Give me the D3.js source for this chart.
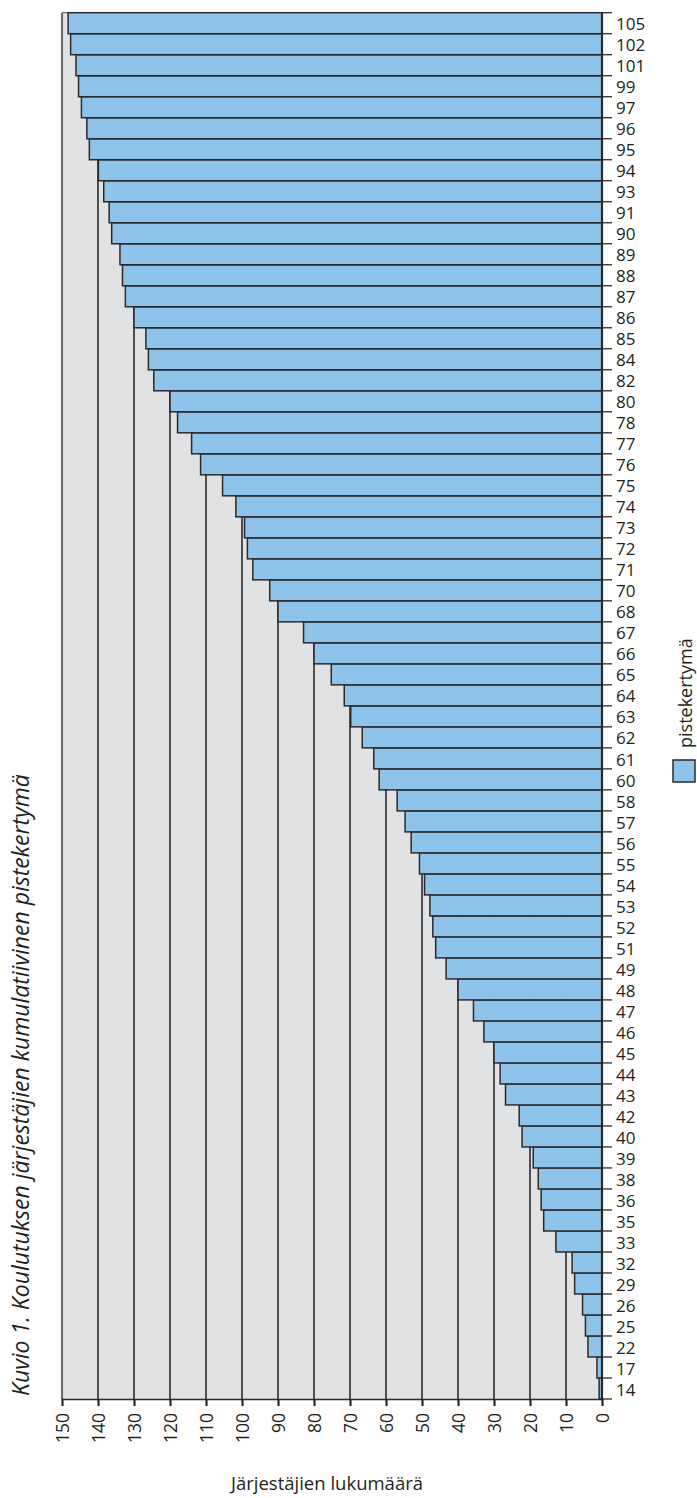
<!DOCTYPE html>
<html>
<head>
<meta charset="utf-8">
<script src="https://cdn.jsdelivr.net/npm/d3@7"></script>
<style>
  body { margin: 0; background: #fff; }
  text { font-family: "Open Sans", sans-serif; fill: #231f20; }
</style>
</head>
<body>
<div id="chart"></div>
<script>
// categories (pisteet) from low to high, with cumulative count of organisers
const categories = [14, 17, 22, 25, 26, 29, 32, 33, 35, 36, 38, 39, 40, 42, 43, 44, 45, 46, 47, 48,
  49, 51, 52, 53, 54, 55, 56, 57, 58, 60, 61, 62, 63, 64, 65, 66, 67, 68, 70, 71,
  72, 73, 74, 75, 76, 77, 78, 80, 82, 84, 85, 86, 87, 88, 89, 90, 91, 93, 94, 95,
  96, 97, 99, 101, 102, 105];
const values = [0.8, 1.4, 3.9, 4.6, 5.4, 7.6, 8.3, 12.8, 16.2, 16.9, 17.7, 19.1, 22.2, 23, 26.8, 28.3, 30, 32.8, 35.7, 40,
  43.3, 46.2, 47, 47.8, 49.3, 50.7, 53, 54.7, 56.9, 61.9, 63.4, 66.6, 69.8, 71.6, 75.2, 80, 82.9, 90, 92.3, 97,
  98.5, 99.3, 101.7, 105.4, 111.5, 114, 117.9, 120, 124.5, 126, 126.7, 130, 132.4, 133.2, 133.9, 136.2, 136.9, 138.4, 139.9, 142.4,
  143.1, 144.6, 145.4, 146.1, 147.6, 148.3];
const xTickValues = [0, 10, 20, 30, 40, 50, 60, 70, 80, 90, 100, 110, 120, 130, 140, 150];
const seriesName = "pistekertymä";
const chartTitle = "Kuvio 1. Koulutuksen järjestäjien kumulatiivinen pistekertymä";
const xTitle = "Järjestäjien lukumäärä";

const width = 697, height = 1498;
const plotLeft = 62, plotRight = 602, plotTop = 12.7, plotBottom = 1399;
const numFont = "Lato, sans-serif";

const data = categories.map((c, i) => ({ cat: String(c), value: values[i] }));

const svg = d3.select("#chart").append("svg")
  .attr("width", width)
  .attr("height", height);

const x = d3.scaleLinear().domain([0, 150]).range([plotRight, plotLeft]);
const y = d3.scaleBand()
  .domain(categories.slice().reverse().map(String))
  .range([plotTop, plotBottom])
  .padding(0);

// plot background
svg.append("rect")
  .attr("x", plotLeft).attr("y", plotTop)
  .attr("width", plotRight - plotLeft).attr("height", plotBottom - plotTop)
  .attr("fill", "#e1e2e4");

// vertical gridlines
svg.append("g").selectAll("line")
  .data(xTickValues.filter(d => d > 0 && d < 150))
  .join("line")
  .attr("x1", d => x(d)).attr("x2", d => x(d))
  .attr("y1", plotTop).attr("y2", plotBottom)
  .attr("stroke", "#2b2a2b")
  .attr("stroke-width", 1.6);

// frame on the left and top
svg.append("line")
  .attr("x1", plotLeft).attr("x2", plotLeft).attr("y1", plotTop).attr("y2", plotBottom)
  .attr("stroke", "#6d6e71").attr("stroke-width", 2.2);
svg.append("line")
  .attr("x1", plotLeft).attr("x2", plotRight).attr("y1", plotTop).attr("y2", plotTop)
  .attr("stroke", "#6d6e71").attr("stroke-width", 1.2);

// bars
svg.append("g").selectAll("rect")
  .data(data)
  .join("rect")
  .attr("x", d => x(d.value))
  .attr("y", d => y(d.cat))
  .attr("width", d => x(0) - x(d.value))
  .attr("height", y.bandwidth())
  .attr("fill", "#8ec4ea")
  .attr("stroke", "#2b2a2b")
  .attr("stroke-width", 1.5);

// bottom axis
const xAxis = svg.append("g")
  .attr("transform", `translate(0,${plotBottom})`)
  .call(d3.axisBottom(x).tickValues(xTickValues).tickSize(7).tickSizeOuter(0));
xAxis.select(".domain").attr("stroke", "#2b2a2b").attr("stroke-width", 1.6);
xAxis.selectAll(".tick line").attr("stroke", "#2b2a2b").attr("stroke-width", 2.2);
xAxis.selectAll(".tick text")
  .attr("font-size", 17.5)
  .attr("font-family", numFont)
  .attr("fill", "#231f20")
  .attr("text-anchor", "end")
  .attr("transform", "rotate(-90)")
  .attr("x", -14)
  .attr("y", 0)
  .attr("dy", "0.36em");

// right axis with category labels, ticks at band edges
const yAxis = svg.append("g")
  .attr("transform", `translate(${plotRight},0)`)
  .call(d3.axisRight(y).tickSize(0).tickPadding(14));
yAxis.select(".domain").remove();
yAxis.selectAll(".tick text")
  .attr("font-size", 17)
  .attr("font-family", numFont)
  .attr("fill", "#231f20")
  .attr("dy", "0.42em");

const edges = y.domain().map(d => y(d)).concat([plotBottom]);
svg.append("g").selectAll("line")
  .data(edges)
  .join("line")
  .attr("x1", plotRight).attr("x2", plotRight + 10)
  .attr("y1", d => d).attr("y2", d => d)
  .attr("stroke", "#2b2a2b")
  .attr("stroke-width", 1.3);

svg.append("line")
  .attr("x1", plotRight).attr("x2", plotRight)
  .attr("y1", plotTop).attr("y2", plotBottom)
  .attr("stroke", "#2b2a2b").attr("stroke-width", 2.2);

// axis title
svg.append("text")
  .attr("x", 327).attr("y", 1490)
  .attr("text-anchor", "middle")
  .attr("font-size", 18.5)
  .text(xTitle);

// chart title (rotated)
svg.append("text")
  .attr("transform", "translate(29,1396) rotate(-90)")
  .attr("font-size", 23)
  .attr("font-style", "italic")
  .text(chartTitle);

// legend
svg.append("rect")
  .attr("x", 673).attr("y", 760)
  .attr("width", 22).attr("height", 22)
  .attr("fill", "#8ec4ea")
  .attr("stroke", "#2b2a2b")
  .attr("stroke-width", 1.5);
svg.append("text")
  .attr("transform", "translate(692,748) rotate(-90)")
  .attr("font-size", 18)
  .text(seriesName);
</script>
</body>
</html>
